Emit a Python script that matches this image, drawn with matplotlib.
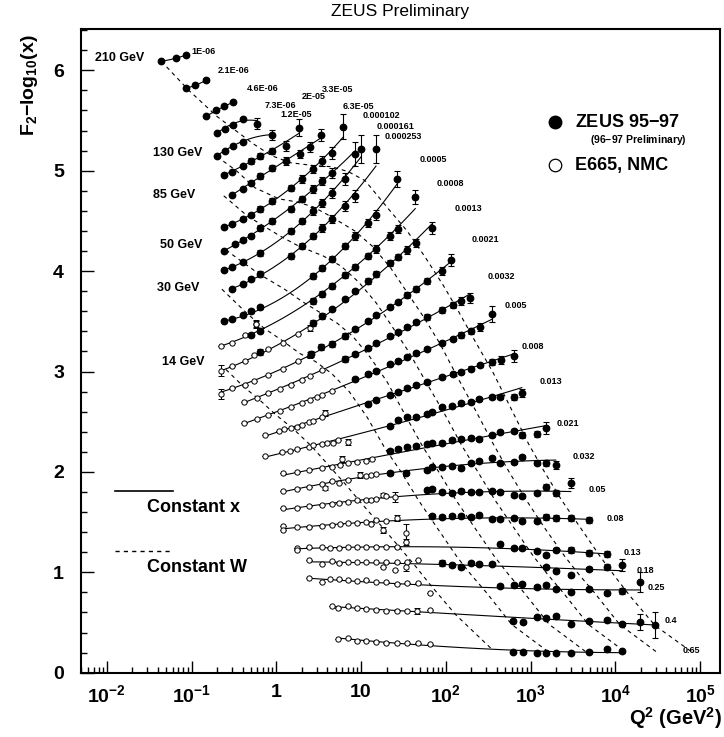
import numpy as np
import matplotlib.pyplot as plt
from matplotlib.ticker import FixedLocator, FixedFormatter, MultipleLocator, LogLocator, NullFormatter

plt.rcParams['font.family'] = ['Liberation Sans', 'DejaVu Sans']
plt.rcParams['mathtext.fontset'] = 'custom'
plt.rcParams['mathtext.rm'] = 'Liberation Sans:bold'
plt.rcParams['mathtext.it'] = 'Liberation Sans:bold'
plt.rcParams['mathtext.bf'] = 'Liberation Sans:bold'

# x bins (one row of points per bin, from top to bottom)
bins = ['1E-06', '2.1E-06', '4.6E-06', '7.3E-06', '1.2E-05', '2E-05', '3.3E-05',
        '6.3E-05', '0.000102', '0.000161', '0.000253', '0.0005', '0.0008', '0.0013',
        '0.0021', '0.0032', '0.005', '0.008', '0.013', '0.021', '0.032', '0.05',
        '0.08', '0.13', '0.18', '0.25', '0.4', '0.65']

# ZEUS points: Q2, F2-log10(x), error
zeus_q2 = [
    [0.044, 0.065, 0.085],
    [0.085, 0.11, 0.148],
    [0.148, 0.195, 0.244, 0.306],
    [0.2, 0.25, 0.305, 0.4, 0.59],
    [0.2, 0.25, 0.305, 0.4, 0.88],
    [0.243, 0.3, 0.4, 0.5, 0.65, 0.9, 1.3, 1.86],
    [0.3, 0.4, 0.5, 0.65, 0.9, 1.3, 1.9, 2.5, 3.4],
    [0.243, 0.3, 0.4, 0.5, 0.65, 0.9, 1.5, 2.0, 2.7, 3.5, 4.5, 6.2],
    [0.243, 0.33, 0.4, 0.5, 0.65, 0.9, 1.5, 2.0, 2.7, 3.5, 4.5, 8.4],
    [0.243, 0.3, 0.4, 0.65, 1.5, 2.0, 2.7, 3.5, 4.5, 6.5, 10],
    [0.3, 0.4, 0.5, 0.65, 1.5, 2.0, 2.7, 3.5, 4.5, 6.5, 8.5, 15],
    [0.243, 0.3, 0.4, 0.5, 0.65, 2.7, 3.5, 4.5, 6.5, 8.5, 12, 15, 26.6],
    [0.5, 0.65, 2.7, 3.5, 4.5, 6.5, 8.5, 12, 15, 22, 27, 43.6],
    [0.65, 2.7, 3.5, 4.5, 6.5, 8.5, 12, 15, 22, 27, 35, 45, 68],
    [2.6, 3.4, 4.5, 6.5, 8.5, 12, 15, 22, 27, 35, 45, 60, 90, 116],
    [6.5, 8.5, 12, 15, 22, 27, 35, 45, 60, 90, 120, 150, 193],
    [8.5, 12, 15, 22, 27, 35, 45, 60, 90, 120, 150, 200, 250, 348],
    [12, 15, 22, 27, 35, 45, 60, 90, 120, 150, 200, 250, 350, 450, 643],
    [21.7, 27, 34.5, 44.5, 59.6, 69.4, 89.6, 119, 150, 199, 249, 348, 436, 643, 789],
    [21.7, 27, 34.5, 44.5, 59.6, 69.4, 89.6, 119, 150, 199, 249, 348, 436, 643, 789, 1182, 1510],
    [22, 34, 59.6, 69.4, 89.6, 119, 150, 199, 249, 348, 436, 643, 789, 1182, 1510, 1982],
    [59.6, 69.4, 89.6, 119, 150, 199, 247, 348, 436, 643, 800, 1182, 1510, 1982, 2978],
    [68, 90, 119, 150, 199, 247, 348, 436, 643, 800, 1182, 1510, 1982, 2978, 4933],
    [436, 643, 800, 1182, 1510, 1982, 2978, 4933, 7911],
    [89.6, 119, 150, 199, 249, 348, 1510, 1982, 2978, 4933, 7911, 11880],
    [436, 643, 800, 1182, 1510, 1982, 2978, 4933, 7911, 11880, 19540],
    [627, 808, 1182, 1510, 1982, 2978, 4933, 7911, 11880, 19540, 29400],
    [627, 808, 1182, 1510, 1982, 2978, 4933, 7911, 11880],
]
zeus_f = [
    [6.09, 6.12, 6.15],
    [5.82, 5.85, 5.90],
    [5.54, 5.60, 5.64, 5.68],
    [5.38, 5.42, 5.46, 5.51, 5.47],
    [5.15, 5.20, 5.25, 5.29, 5.36],
    [4.96, 4.99, 5.05, 5.10, 5.15, 5.20, 5.25, 5.43],
    [4.76, 4.82, 4.88, 4.95, 5.03, 5.10, 5.17, 5.24, 5.36],
    [4.44, 4.47, 4.52, 4.56, 4.62, 4.70, 4.83, 4.92, 5.02, 5.10, 5.18, 5.44],
    [4.20, 4.27, 4.31, 4.35, 4.43, 4.50, 4.62, 4.72, 4.82, 4.90, 4.98, 5.17],
    [4.01, 4.04, 4.09, 4.18, 4.40, 4.50, 4.60, 4.68, 4.78, 4.92, 5.22],
    [3.82, 3.87, 3.92, 3.97, 4.15, 4.25, 4.35, 4.43, 4.52, 4.65, 4.75, 5.22],
    [3.50, 3.52, 3.56, 3.60, 3.64, 3.95, 4.03, 4.12, 4.25, 4.35, 4.48, 4.56, 4.92],
    [3.36, 3.40, 3.70, 3.77, 3.85, 3.96, 4.04, 4.15, 4.22, 4.35, 4.42, 4.735],
    [3.19, 3.48, 3.55, 3.62, 3.72, 3.80, 3.90, 3.97, 4.08, 4.14, 4.21, 4.28, 4.43],
    [3.17, 3.24, 3.27, 3.35, 3.42, 3.50, 3.56, 3.64, 3.69, 3.76, 3.82, 3.90, 4.00, 4.11],
    [3.12, 3.17, 3.23, 3.28, 3.35, 3.39, 3.44, 3.49, 3.54, 3.61, 3.66, 3.70, 3.73],
    [2.93, 2.98, 3.01, 3.07, 3.10, 3.14, 3.18, 3.22, 3.28, 3.32, 3.36, 3.40, 3.44, 3.57],
    [2.68, 2.72, 2.77, 2.80, 2.84, 2.87, 2.90, 2.95, 2.98, 3.00, 3.03, 3.06, 3.09, 3.11, 3.154],
    [2.460, 2.517, 2.544, 2.544, 2.577, 2.600, 2.649, 2.656, 2.683, 2.699, 2.726, 2.743, 2.749, 2.749, 2.789],
    [2.211, 2.225, 2.245, 2.258, 2.278, 2.285, 2.291, 2.318, 2.325, 2.335, 2.325, 2.368, 2.400, 2.410, 2.368, 2.378, 2.434],
    [1.992, 1.986, 2.019, 2.046, 2.052, 2.059, 2.042, 2.086, 2.112, 2.135, 2.086, 2.102, 2.151, 2.092, 2.092, 2.069],
    [1.820, 1.827, 1.797, 1.787, 1.810, 1.803, 1.803, 1.813, 1.803, 1.770, 1.760, 1.787, 1.847, 1.793, 1.886],
    [1.561, 1.548, 1.564, 1.561, 1.554, 1.571, 1.528, 1.528, 1.538, 1.514, 1.514, 1.554, 1.544, 1.544, 1.521],
    [1.279, 1.239, 1.245, 1.212, 1.172, 1.222, 1.222, 1.195, 1.182],
    [1.096, 1.073, 1.056, 1.096, 1.083, 1.083, 1.056, 1.016, 0.973, 1.033, 1.050, 1.073],
    [0.864, 0.871, 0.880, 0.857, 0.871, 0.837, 0.801, 0.837, 0.791, 0.814, 0.906],
    [0.518, 0.502, 0.558, 0.548, 0.568, 0.485, 0.515, 0.525, 0.482, 0.508, 0.475],
    [0.203, 0.203, 0.199, 0.199, 0.199, 0.193, 0.203, 0.233, 0.216],
]
zeus_err = [
    [0.01, 0.01, 0.01],
    [0.01, 0.01, 0.02],
    [0.01, 0.01, 0.01, 0.01],
    [0.01, 0.01, 0.01, 0.01, 0.05],
    [0.01, 0.01, 0.01, 0.01, 0.05],
    [0.01, 0.01, 0.01, 0.03, 0.03, 0.03, 0.05, 0.08],
    [0.01, 0.01, 0.02, 0.03, 0.03, 0.04, 0.04, 0.05, 0.06],
    [0.01, 0.01, 0.02, 0.02, 0.03, 0.03, 0.03, 0.04, 0.04, 0.05, 0.06, 0.12],
    [0.01, 0.01, 0.02, 0.02, 0.03, 0.03, 0.03, 0.03, 0.04, 0.04, 0.05, 0.12],
    [0.01, 0.01, 0.02, 0.03, 0.03, 0.03, 0.04, 0.04, 0.05, 0.06, 0.14],
    [0.01, 0.01, 0.02, 0.03, 0.03, 0.03, 0.03, 0.04, 0.04, 0.05, 0.06, 0.14],
    [0.01, 0.01, 0.01, 0.02, 0.02, 0.03, 0.03, 0.03, 0.03, 0.04, 0.04, 0.05, 0.08],
    [0.02, 0.02, 0.03, 0.03, 0.03, 0.03, 0.03, 0.03, 0.04, 0.04, 0.04, 0.07],
    [0.03, 0.03, 0.03, 0.02, 0.02, 0.02, 0.03, 0.03, 0.03, 0.03, 0.04, 0.04, 0.06],
    [0.03, 0.03, 0.03, 0.03, 0.02, 0.02, 0.02, 0.02, 0.02, 0.03, 0.03, 0.03, 0.04, 0.06],
    [0.03, 0.02, 0.02, 0.02, 0.02, 0.02, 0.02, 0.02, 0.03, 0.03, 0.03, 0.04, 0.05],
    [0.02, 0.02, 0.02, 0.02, 0.02, 0.02, 0.02, 0.02, 0.02, 0.02, 0.03, 0.03, 0.04, 0.08],
    [0.02, 0.02, 0.02, 0.02, 0.02, 0.02, 0.02, 0.02, 0.02, 0.02, 0.02, 0.02, 0.03, 0.04, 0.06],
    [0.02, 0.02, 0.02, 0.02, 0.02, 0.02, 0.02, 0.02, 0.02, 0.02, 0.02, 0.02, 0.02, 0.03, 0.04],
    [0.02, 0.02, 0.02, 0.02, 0.02, 0.02, 0.02, 0.02, 0.02, 0.02, 0.02, 0.02, 0.02, 0.02, 0.03, 0.03, 0.06],
    [0.02, 0.02, 0.02, 0.02, 0.02, 0.02, 0.02, 0.02, 0.02, 0.02, 0.02, 0.02, 0.02, 0.02, 0.03, 0.04],
    [0.02, 0.02, 0.02, 0.02, 0.02, 0.02, 0.02, 0.02, 0.02, 0.02, 0.02, 0.02, 0.03, 0.03, 0.05],
    [0.02, 0.02, 0.02, 0.02, 0.02, 0.02, 0.02, 0.02, 0.02, 0.02, 0.02, 0.03, 0.03, 0.03, 0.03],
    [0.02, 0.02, 0.02, 0.02, 0.02, 0.02, 0.03, 0.03, 0.03],
    [0.03, 0.02, 0.02, 0.02, 0.02, 0.02, 0.02, 0.02, 0.02, 0.02, 0.03, 0.06],
    [0.02, 0.02, 0.02, 0.02, 0.02, 0.02, 0.02, 0.02, 0.02, 0.03, 0.1],
    [0.015, 0.015, 0.015, 0.015, 0.02, 0.015, 0.015, 0.02, 0.02, 0.08, 0.13],
    [0.01, 0.01, 0.01, 0.01, 0.01, 0.01, 0.01, 0.01, 0.015],
]

# E665 / NMC points
fixed_q2 = [
    [], [], [], [], [], [], [], [], [], [], [],
    [0.57],
    [0.22, 0.3, 0.43, 0.57],
    [0.22, 0.3, 0.43, 0.55, 0.8, 1.2, 1.8, 2.5],
    [0.22, 0.3, 0.43, 0.55, 0.8, 1.2, 1.8, 2.5],
    [0.42, 0.6, 0.8, 1.1, 1.5, 2.0, 2.5, 3.5],
    [0.42, 0.6, 0.8, 1.1, 1.5, 2.0, 2.5, 3.0, 3.5, 4.5],
    [0.736, 1.09, 1.23, 1.49, 1.77, 2.0, 2.45, 2.72, 3.44, 3.76],
    [0.736, 1.16, 1.45, 1.74, 2.45, 2.72, 3.44, 3.94, 4.72, 5.41, 7.1],
    [1.21, 1.74, 2.45, 3.44, 4.5, 5.6, 6.0, 7.0, 8.9, 11.5, 13.5],
    [1.21, 1.74, 2.45, 3.44, 3.76, 4.5, 5.5, 7.0, 9.72, 11.5, 13.1, 15.0],
    [1.21, 1.74, 2.45, 3.44, 4.5, 5.5, 7.0, 8.9, 11.5, 13.0, 15.0, 18.3, 19.7, 25.2],
    [1.21, 1.21, 1.74, 2.45, 3.44, 4.5, 5.6, 7.0, 8.9, 11.5, 13.0, 15.0, 18.3, 19.7, 26.4],
    [1.74, 1.74, 2.45, 3.44, 4.3, 5.5, 7.0, 8.9, 11.5, 15.0, 19.7, 26.4, 34.0, 34.0],
    [2.45, 3.44, 4.5, 5.5, 7.0, 8.9, 11.5, 15.0, 19.7, 26.4, 35.2, 47.4, 18.3, 25.2, 34.0],
    [2.45, 3.44, 4.3, 5.5, 7.0, 8.9, 11.5, 15.0, 19.7, 26.4, 35.2, 47.4, 65.2],
    [4.5, 5.4, 7.0, 8.9, 11.5, 15.0, 19.7, 26.4, 35.2, 46.0, 65.2],
    [5.4, 7.0, 8.9, 11.5, 15.0, 19.7, 26.4, 35.2, 47.4, 65.2],
]
fixed_f = [
    [], [], [], [], [], [], [], [], [], [], [],
    [3.47],
    [3.25, 3.28, 3.36, 3.47],
    [3.01, 3.05, 3.10, 3.16, 3.22, 3.28, 3.37, 3.43],
    [2.78, 2.84, 2.87, 2.91, 2.97, 3.03, 3.10, 3.16],
    [2.70, 2.74, 2.79, 2.83, 2.87, 2.92, 2.96, 3.02],
    [2.49, 2.53, 2.57, 2.61, 2.65, 2.69, 2.72, 2.75, 2.77, 2.81],
    [2.368, 2.410, 2.424, 2.434, 2.444, 2.467, 2.500, 2.507, 2.550, 2.590],
    [2.158, 2.195, 2.211, 2.225, 2.251, 2.268, 2.278, 2.291, 2.291, 2.318, 2.301],
    [1.986, 2.002, 2.019, 2.036, 2.052, 2.068, 2.125, 2.086, 2.102, 2.112, 2.13],
    [1.813, 1.830, 1.853, 1.879, 1.836, 1.912, 1.892, 1.919, 1.969, 1.959, 1.969, 1.976],
    [1.64, 1.64, 1.66, 1.67, 1.68, 1.69, 1.70, 1.72, 1.72, 1.72, 1.73, 1.77, 1.76, 1.75],
    [1.46, 1.42, 1.448, 1.454, 1.461, 1.471, 1.478, 1.488, 1.488, 1.504, 1.48, 1.521, 1.42, 1.514, 1.538],
    [1.245, 1.222, 1.249, 1.249, 1.239, 1.239, 1.249, 1.255, 1.249, 1.249, 1.249, 1.255, 1.388, 1.305],
    [1.122, 1.082, 1.116, 1.089, 1.106, 1.100, 1.106, 1.100, 1.100, 1.106, 1.106, 1.122, 1.05, 1.023, 1.05],
    [0.940, 0.906, 0.930, 0.930, 0.923, 0.916, 0.923, 0.900, 0.900, 0.883, 0.896, 0.896, 0.797],
    [0.664, 0.647, 0.664, 0.641, 0.631, 0.624, 0.618, 0.615, 0.615, 0.618, 0.624],
    [0.336, 0.343, 0.319, 0.319, 0.309, 0.299, 0.293, 0.293, 0.293, 0.286],
]
fixed_err = [
    [], [], [], [], [], [], [], [], [], [], [],
    [0.04],
    [0, 0, 0, 0.03],
    [0.05, 0, 0, 0, 0, 0, 0, 0.03],
    [0.05, 0, 0, 0, 0, 0, 0, 0.03],
    [0, 0, 0, 0, 0, 0, 0, 0],
    [0, 0, 0, 0, 0, 0, 0, 0, 0, 0],
    [0, 0, 0, 0, 0, 0, 0, 0, 0, 0.03],
    [0, 0, 0, 0, 0, 0, 0, 0, 0, 0, 0.03],
    [0, 0, 0, 0, 0, 0, 0.03, 0, 0, 0, 0],
    [0, 0, 0, 0, 0.02, 0, 0, 0, 0.03, 0, 0, 0],
    [0, 0, 0, 0, 0, 0, 0, 0, 0, 0, 0, 0.02, 0, 0.05],
    [0, 0, 0, 0, 0, 0, 0, 0, 0, 0, 0, 0, 0.03, 0, 0.03],
    [0, 0, 0, 0, 0, 0, 0, 0, 0, 0, 0, 0, 0.09, 0.03],
    [0, 0, 0, 0, 0, 0, 0, 0, 0, 0, 0, 0, 0, 0, 0.04],
    [0, 0, 0, 0, 0, 0, 0, 0, 0, 0, 0, 0, 0],
    [0, 0, 0, 0, 0, 0, 0, 0, 0, 0.03, 0],
    [0, 0, 0, 0, 0, 0, 0, 0, 0, 0],
]

# label anchor for each x bin
label_q2 = [0.101, 0.206, 0.452, 0.736, 1.107, 2.01, 3.47, 6.13, 10.3, 15.4, 19.2, 49.7,
            78.8, 128.5, 204, 315, 500, 793, 1294, 2052, 3170, 4898, 7980, 12670, 18030,
            24320, 38560, 62900]
label_f = [6.185, 5.996, 5.82, 5.645, 5.562, 5.737, 5.804, 5.644, 5.545, 5.438, 5.338, 5.107,
           4.874, 4.625, 4.310, 3.945, 3.653, 3.254, 2.898, 2.484, 2.152, 1.820, 1.538, 1.195,
           1.023, 0.851, 0.519, 0.224]

# lines of constant W
w_names = ['210 GeV', '130 GeV', '85 GeV', '50 GeV', '30 GeV', '14 GeV']
w_name_q2 = [0.00727, 0.0352, 0.0352, 0.0426, 0.0392, 0.0449]
w_name_f = [6.122, 5.176, 4.758, 4.260, 3.832, 3.095]
w_q2 = [
    [0.044, 0.093, 0.2, 0.32, 0.53, 0.88, 1.46, 2.8, 4.5, 7.1, 11.2, 22, 35, 57, 93, 141, 222,
     356, 581, 946, 1458, 2321, 3835, 6590, 9680, 14700, 29400, 81900],
    [0.2, 0.338, 0.56, 1.07, 1.72, 2.72, 4.28, 8.45, 13.5, 22, 35.5, 54, 85, 136, 222, 362, 558,
     889, 1470, 2525, 3710, 5630, 11270, 31400],
    [0.24, 0.455, 0.737, 1.16, 1.83, 3.6, 5.8, 9.4, 15.2, 23.2, 36.3, 58, 95, 155, 239, 380, 628,
     1080, 1586, 2408, 4816, 13420],
    [0.255, 0.4, 0.63, 1.25, 2.0, 3.25, 5.26, 8.0, 12.6, 20.2, 33, 53.6, 82.6, 131.6, 217, 373,
     548, 833, 1666, 4640],
    [0.228, 0.45, 0.72, 1.17, 1.89, 2.89, 4.5, 7.25, 11.9, 19.3, 29.7, 47.4, 78, 134, 197, 300,
     600, 1670],
    [0.255, 0.41, 0.63, 0.985, 1.58, 2.58, 4.2, 6.5, 10.3, 17, 29, 43, 65, 130, 364],
]
w_f = [
    [6.09, 5.80, 5.54, 5.41, 5.27, 5.15, 5.08, 5.05, 5.04, 4.99, 4.90, 4.60, 4.40, 4.14, 3.86,
     3.60, 3.30, 3.00, 2.64, 2.28, 2.00, 1.72, 1.45, 1.16, 0.97, 0.77, 0.47, 0.20],
    [5.14, 5.00, 4.83, 4.72, 4.69, 4.64, 4.55, 4.40, 4.25, 4.04, 3.78, 3.55, 3.28, 2.95, 2.62,
     2.28, 2.00, 1.72, 1.44, 1.16, 0.98, 0.80, 0.48, 0.20],
    [4.75, 4.55, 4.44, 4.34, 4.25, 4.15, 4.05, 3.89, 3.68, 3.45, 3.20, 2.90, 2.59, 2.26, 2.00,
     1.72, 1.45, 1.16, 0.98, 0.80, 0.48, 0.20],
    [4.21, 4.09, 3.97, 3.82, 3.70, 3.59, 3.48, 3.35, 3.15, 2.90, 2.57, 2.25, 2.00, 1.72, 1.45,
     1.16, 0.98, 0.80, 0.48, 0.20],
    [3.82, 3.58, 3.43, 3.31, 3.18, 3.10, 2.98, 2.80, 2.54, 2.23, 2.00, 1.72, 1.45, 1.16, 0.98,
     0.80, 0.48, 0.20],
    [3.02, 2.85, 2.72, 2.57, 2.43, 2.26, 2.06, 1.88, 1.68, 1.47, 1.24, 1.07, 0.88, 0.58, 0.22],
]

fig = plt.figure(figsize=(7.24, 7.37), dpi=100)
ax = fig.add_axes([0.1115, 0.0872, 0.8823, 0.8741])
ax.set_xscale('log')
ax.set_xlim(10 ** -2.307, 10 ** 5.229)
ax.set_ylim(0, 6.416)

# constant W lines
for q, f in zip(w_q2, w_f):
    ax.plot(q, f, color='black', lw=0.8, ls=(0, (3.5, 3.5)), zorder=1)
for name, q, f in zip(w_names, w_name_q2, w_name_f):
    ax.text(q, f, name, fontsize=9, fontweight='bold', ha='left', va='center')

# constant x: smooth curve through each row
for i in range(len(bins)):
    q = np.array(zeus_q2[i] + fixed_q2[i], dtype=float)
    f = np.array(zeus_f[i] + fixed_f[i], dtype=float)
    e = np.array(zeus_err[i] + fixed_err[i], dtype=float)
    lq = np.log10(q)
    deg = min(2, len(q) - 1)
    coef = np.polyfit(lq, f, deg, w=1.0 / (0.015 + e))
    xs = np.linspace(lq.min(), lq.max(), 80)
    ax.plot(10 ** xs, np.polyval(coef, xs), color='black', lw=0.8, zorder=2)

    if fixed_q2[i]:
        ax.errorbar(fixed_q2[i], fixed_f[i], yerr=fixed_err[i], fmt='o', ms=3.8,
                    mfc='white', mec='black', mew=0.7, ecolor='black', elinewidth=0.8,
                    capsize=2, capthick=0.8, zorder=3)
    ax.errorbar(zeus_q2[i], zeus_f[i], yerr=zeus_err[i], fmt='o', ms=4.6,
                mfc='black', mec='black', ecolor='black', elinewidth=0.8,
                capsize=2, capthick=0.8, zorder=4)
    ax.text(label_q2[i], label_f[i], bins[i], fontsize=6.5, fontweight='bold',
            ha='left', va='center')

# axes styling
ax.xaxis.set_major_locator(FixedLocator([1e-2, 1e-1, 1, 10, 1e2, 1e3, 1e4, 1e5]))
ax.xaxis.set_major_formatter(FixedFormatter(['$10^{-2}$', '$10^{-1}$', '1', '10', '$10^{2}$',
                                             '$10^{3}$', '$10^{4}$', '$10^{5}$']))
ax.xaxis.set_minor_locator(LogLocator(base=10, subs=np.arange(2, 10), numticks=20))
ax.xaxis.set_minor_formatter(NullFormatter())
ax.yaxis.set_major_locator(MultipleLocator(1))
ax.yaxis.set_minor_locator(MultipleLocator(0.2))
ax.tick_params(which='both', direction='in', top=False, right=False, width=1)
ax.tick_params(which='major', length=9, labelsize=14)
ax.tick_params(which='minor', length=4.5)
ax.tick_params(axis='y', pad=12)
ax.tick_params(axis='x', pad=8)
for lab in ax.get_xticklabels() + ax.get_yticklabels():
    lab.set_fontweight('bold')
for s in ax.spines.values():
    s.set_linewidth(1.5)

# legend
ax.plot([0.7425], [0.8546], 'o', color='black', ms=9, transform=ax.transAxes, clip_on=False)
ax.text(0.7738, 0.8546, 'ZEUS 95$-$97', transform=ax.transAxes, fontsize=13,
        fontweight='bold', va='center')
ax.text(0.7973, 0.8266, '(96$-$97 Preliminary)', transform=ax.transAxes, fontsize=7.5,
        fontweight='bold', va='center')
ax.plot([0.7425], [0.7879], 'o', mfc='white', mec='black', mew=0.9, ms=9,
        transform=ax.transAxes, clip_on=False)
ax.text(0.7738, 0.7879, 'E665, NMC', transform=ax.transAxes, fontsize=13,
        fontweight='bold', va='center')

ax.plot([0.0537, 0.1445], [0.2818, 0.2818], color='black', lw=1.2, transform=ax.transAxes)
ax.text(0.1037, 0.2570, 'Constant x', transform=ax.transAxes, fontsize=13,
        fontweight='bold', va='center')
ax.plot([0.0537, 0.1445], [0.1889, 0.1889], color='black', lw=1.0, ls=(0, (3, 3)),
        transform=ax.transAxes)
ax.text(0.1037, 0.1641, 'Constant W', transform=ax.transAxes, fontsize=13,
        fontweight='bold', va='center')

fig.text(0.552, 0.984, 'ZEUS Preliminary', fontsize=12.5, ha='center', va='center')
fig.text(0.041, 0.885, 'F$_2$$-$log$_{10}$(x)', fontsize=14, fontweight='bold',
         rotation=90, ha='center', va='center')
fig.text(0.997, 0.026, 'Q$^2$ (GeV$^2$)', fontsize=14.5, fontweight='bold',
         ha='right', va='center')

fig.savefig('out.png', dpi=100)
